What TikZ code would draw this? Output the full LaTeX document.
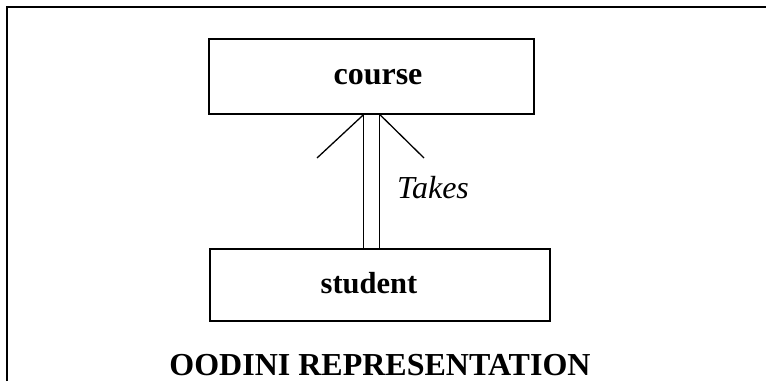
\documentclass[tikz,border=0pt]{standalone}
\usepackage{fontspec}
\setmainfont{Liberation Serif}
\begin{document}
\begin{tikzpicture}[x=1pt,y=-1pt,
  entity/.style={draw,line width=1.5pt,inner sep=0pt,anchor=north west},
  entname/.style={font=\fontsize{32}{38}\selectfont\bfseries,inner sep=0pt,anchor=base},
  link/.style={line width=1.3pt},
  relname/.style={font=\fontsize{32}{38}\selectfont\itshape,inner sep=0pt,anchor=base west},
  frame/.style={line width=1.4pt}]
\useasboundingbox (0,0) rectangle (766,381);

% outer frame (left and top edges)
\coordinate (fbl) at (7,381);
\coordinate (ftl) at (7,7);
\coordinate (ftr) at (766,7);
\draw[frame] (fbl) -- (ftl) -- (ftr);

% entities
\node[entity,minimum width=325pt,minimum height=75pt] (course) at (208,38) {};
\node[entity,minimum width=340pt,minimum height=72pt] (student) at (209,248) {};
\node[entname] (coursename) at (378,84) {course};
\node[entname,font=\fontsize{30.5}{36}\selectfont\bfseries] (studentname) at (369,293) {student};

% double-line relationship with crow's foot at the course end
\coordinate (la) at ([xshift=-7.5pt]course.south);
\coordinate (ra) at ([xshift=8.5pt]course.south);
\coordinate (lb) at (la |- student.north);
\coordinate (rb) at (ra |- student.north);
\coordinate (lf) at (317,158);
\coordinate (rf) at (424,158);
\draw[link] (la) -- (lb);
\draw[link] (ra) -- (rb);
\draw[link] (la) -- (lf);
\draw[link] (ra) -- (rf);
\node[relname] (takes) at (397,198) {Takes};

% caption
\node[entname] (caption) at (380,375.5) {OODINI REPRESENTATION};
\end{tikzpicture}
\end{document}
